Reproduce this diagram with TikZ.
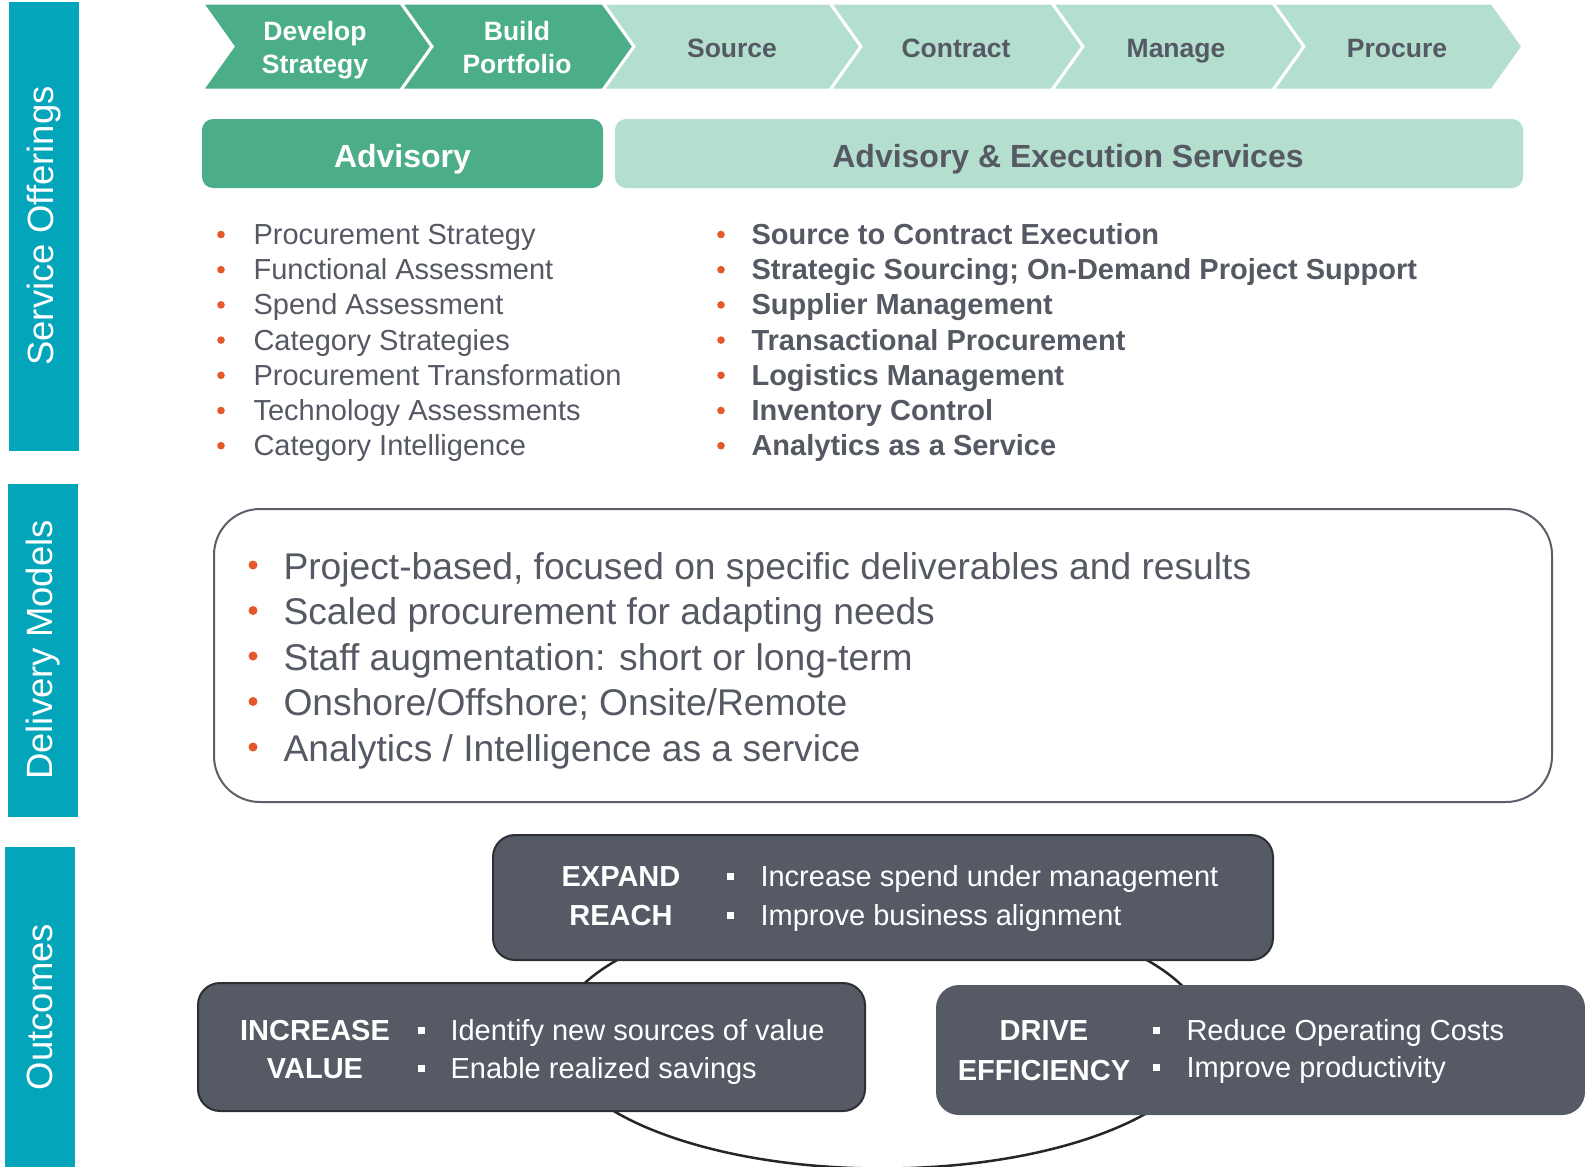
\documentclass[tikz,border=0pt]{standalone}
\usepackage{fontspec}
\setmainfont{Liberation Sans}
\definecolor{tealbar}{RGB}{2,165,185}
\definecolor{dkgreen}{RGB}{76,174,136}
\definecolor{ltgreen}{RGB}{180,222,206}
\definecolor{txtgray}{RGB}{85,89,99}
\definecolor{bulor}{RGB}{228,88,44}
\definecolor{obox}{RGB}{86,90,101}
\definecolor{oborder}{RGB}{45,47,52}
\definecolor{dmborder}{RGB}{90,95,105}
\newcommand\myfs[1]{\fontsize{#1}{#1}\selectfont}
\begin{document}
\begin{tikzpicture}[x=1pt,y=-1pt,
  sidetext/.style={rotate=90,text=white,font=\myfs{36.5}},
  chevdark/.style={fill=dkgreen,draw=white,line width=3pt,line join=miter},
  chevlight/.style={fill=ltgreen,draw=white,line width=3pt,line join=miter},
  chevtxtw/.style={anchor=base,text=white,font=\bfseries\myfs{26.5}},
  chevtxtg/.style={anchor=base,text=txtgray,font=\bfseries\myfs{26.5}},
  listtxt/.style={anchor=base west,text=txtgray,font=\myfs{29}},
  listtxtb/.style={anchor=base west,text=txtgray,font=\bfseries\myfs{29}},
  dmtxt/.style={anchor=base west,text=txtgray,font=\myfs{37.2}},
  obxstyle/.style={fill=obox,draw=oborder,line width=2pt,rounded corners=22pt},
  otitle/.style={anchor=base,text=white,font=\bfseries\myfs{29}},
  otxt/.style={anchor=base west,text=white,font=\myfs{29}},
  osq/.style={fill=white}
]
\useasboundingbox (0,0) rectangle (1585,1167);
\fill[white] (0,0) rectangle (1585,1167);

% side bars
\fill[tealbar] (9,2) rectangle (79,451);
\node[sidetext] (so) at (44,226) {Service Offerings};
\fill[tealbar] (8,484) rectangle (78,817);
\node[sidetext] (dm) at (43,650) {Delivery Models};
\fill[tealbar] (5,847) rectangle (75,1170);
\node[sidetext] (oc) at (40,1007) {Outcomes};

% chevrons
\draw[chevdark] (202,3) -- (401,3) -- (432,46.5) -- (401,90) -- (202,90) -- (233,46.5) -- cycle;
\draw[chevdark] (401,3) -- (603,3) -- (634,46.5) -- (603,90) -- (401,90) -- (432,46.5) -- cycle;
\draw[chevlight] (603,3) -- (830,3) -- (861,46.5) -- (830,90) -- (603,90) -- (634,46.5) -- cycle;
\draw[chevlight] (830,3) -- (1052,3) -- (1083,46.5) -- (1052,90) -- (830,90) -- (861,46.5) -- cycle;
\draw[chevlight] (1052,3) -- (1273,3) -- (1304,46.5) -- (1273,90) -- (1052,90) -- (1083,46.5) -- cycle;
\draw[chevlight] (1273,3) -- (1492,3) -- (1523,46.5) -- (1492,90) -- (1273,90) -- (1304,46.5) -- cycle;
\node[chevtxtw] (c1a) at (315,40) {Develop};
\node[chevtxtw] (c1b) at (315,73) {Strategy};
\node[chevtxtw] (c2a) at (517,40) {Build};
\node[chevtxtw] (c2b) at (517,73) {Portfolio};
\node[chevtxtg] (c3) at (732,57) {Source};
\node[chevtxtg] (c4) at (956,57) {Contract};
\node[chevtxtg] (c5) at (1176,57) {Manage};
\node[chevtxtg] (c6) at (1397,57) {Procure};

% headers
\fill[dkgreen,rounded corners=11pt] (202,119) rectangle (603,188);
\node[anchor=base,text=white,font=\bfseries\myfs{32}] (adv) at (402.5,167) {Advisory};
\fill[ltgreen,rounded corners=11pt] (615,119) rectangle (1523,188);
\node[anchor=base,text=txtgray,font=\bfseries\myfs{32}] (ades) at (1068,167) {Advisory \& Execution Services};

% service lists
\foreach \t [count=\i from 0] in {Procurement Strategy,Functional Assessment,Spend Assessment,Category Strategies,Procurement Transformation,Technology Assessments,Category Intelligence}{
  \pgfmathsetmacro\b{244.5+35.2*\i}
  \fill[bulor] (221,\b-10) circle[radius=3.8pt];
  \node[listtxt] (l\i) at (250,\b) {\t};
}
\foreach \t [count=\i from 0] in {Source to Contract Execution,Strategic Sourcing; On-Demand Project Support,Supplier Management,Transactional Procurement,Logistics Management,Inventory Control,Analytics as a Service}{
  \pgfmathsetmacro\b{244.5+35.2*\i}
  \fill[bulor] (721,\b-10) circle[radius=3.8pt];
  \node[listtxtb] (r\i) at (748,\b) {\t};
}

% delivery models
\draw[dmborder,line width=2pt,rounded corners=46pt] (214,509) rectangle (1552,802);
\foreach \t [count=\i from 0] in {Project-based{,} focused on specific deliverables and results,Scaled procurement for adapting needs,Staff augmentation: short or long-term,Onshore/Offshore; Onsite/Remote,Analytics / Intelligence as a service}{
  \pgfmathsetmacro\b{579+45.5*\i}
  \fill[bulor] (253,\b-14) circle[radius=4.5pt];
  \node[dmtxt] (d\i) at (280,\b) {\t};
}

% outcomes
\draw[line width=2.5pt,black!85] (882,1036.5) ellipse [x radius=325, y radius=132];
\draw[obxstyle] (493,835) rectangle (1273,960);
\draw[obxstyle] (198,983) rectangle (865,1111);
\draw[obxstyle,draw=obox] (937,986) rectangle (1584,1114);

\node[otitle] (e1) at (621,886) {EXPAND};
\node[otitle] (e2) at (621,925) {REACH};
\fill[osq] (726.5,872.5) rectangle ++(7,7);
\fill[osq] (726.5,911.5) rectangle ++(7,7);
\node[otxt] (e3) at (757,886) {Increase spend under management};
\node[otxt] (e4) at (757,925) {Improve business alignment};

\node[otitle] (i1) at (315,1040) {INCREASE};
\node[otitle] (i2) at (315,1078) {VALUE};
\fill[osq] (417.5,1026.5) rectangle ++(7,7);
\fill[osq] (417.5,1064.5) rectangle ++(7,7);
\node[otxt] (i3) at (447,1040) {Identify new sources of value};
\node[otxt] (i4) at (447,1078) {Enable realized savings};

\node[otitle] (f1) at (1044,1040) {DRIVE};
\node[otitle] (f2) at (1044,1080) {EFFICIENCY};
\fill[osq] (1152.5,1026.5) rectangle ++(7,7);
\fill[osq] (1152.5,1063.5) rectangle ++(7,7);
\node[otxt] (f3) at (1183,1040) {Reduce Operating Costs};
\node[otxt] (f4) at (1183,1077) {Improve productivity};
\end{tikzpicture}
\end{document}
